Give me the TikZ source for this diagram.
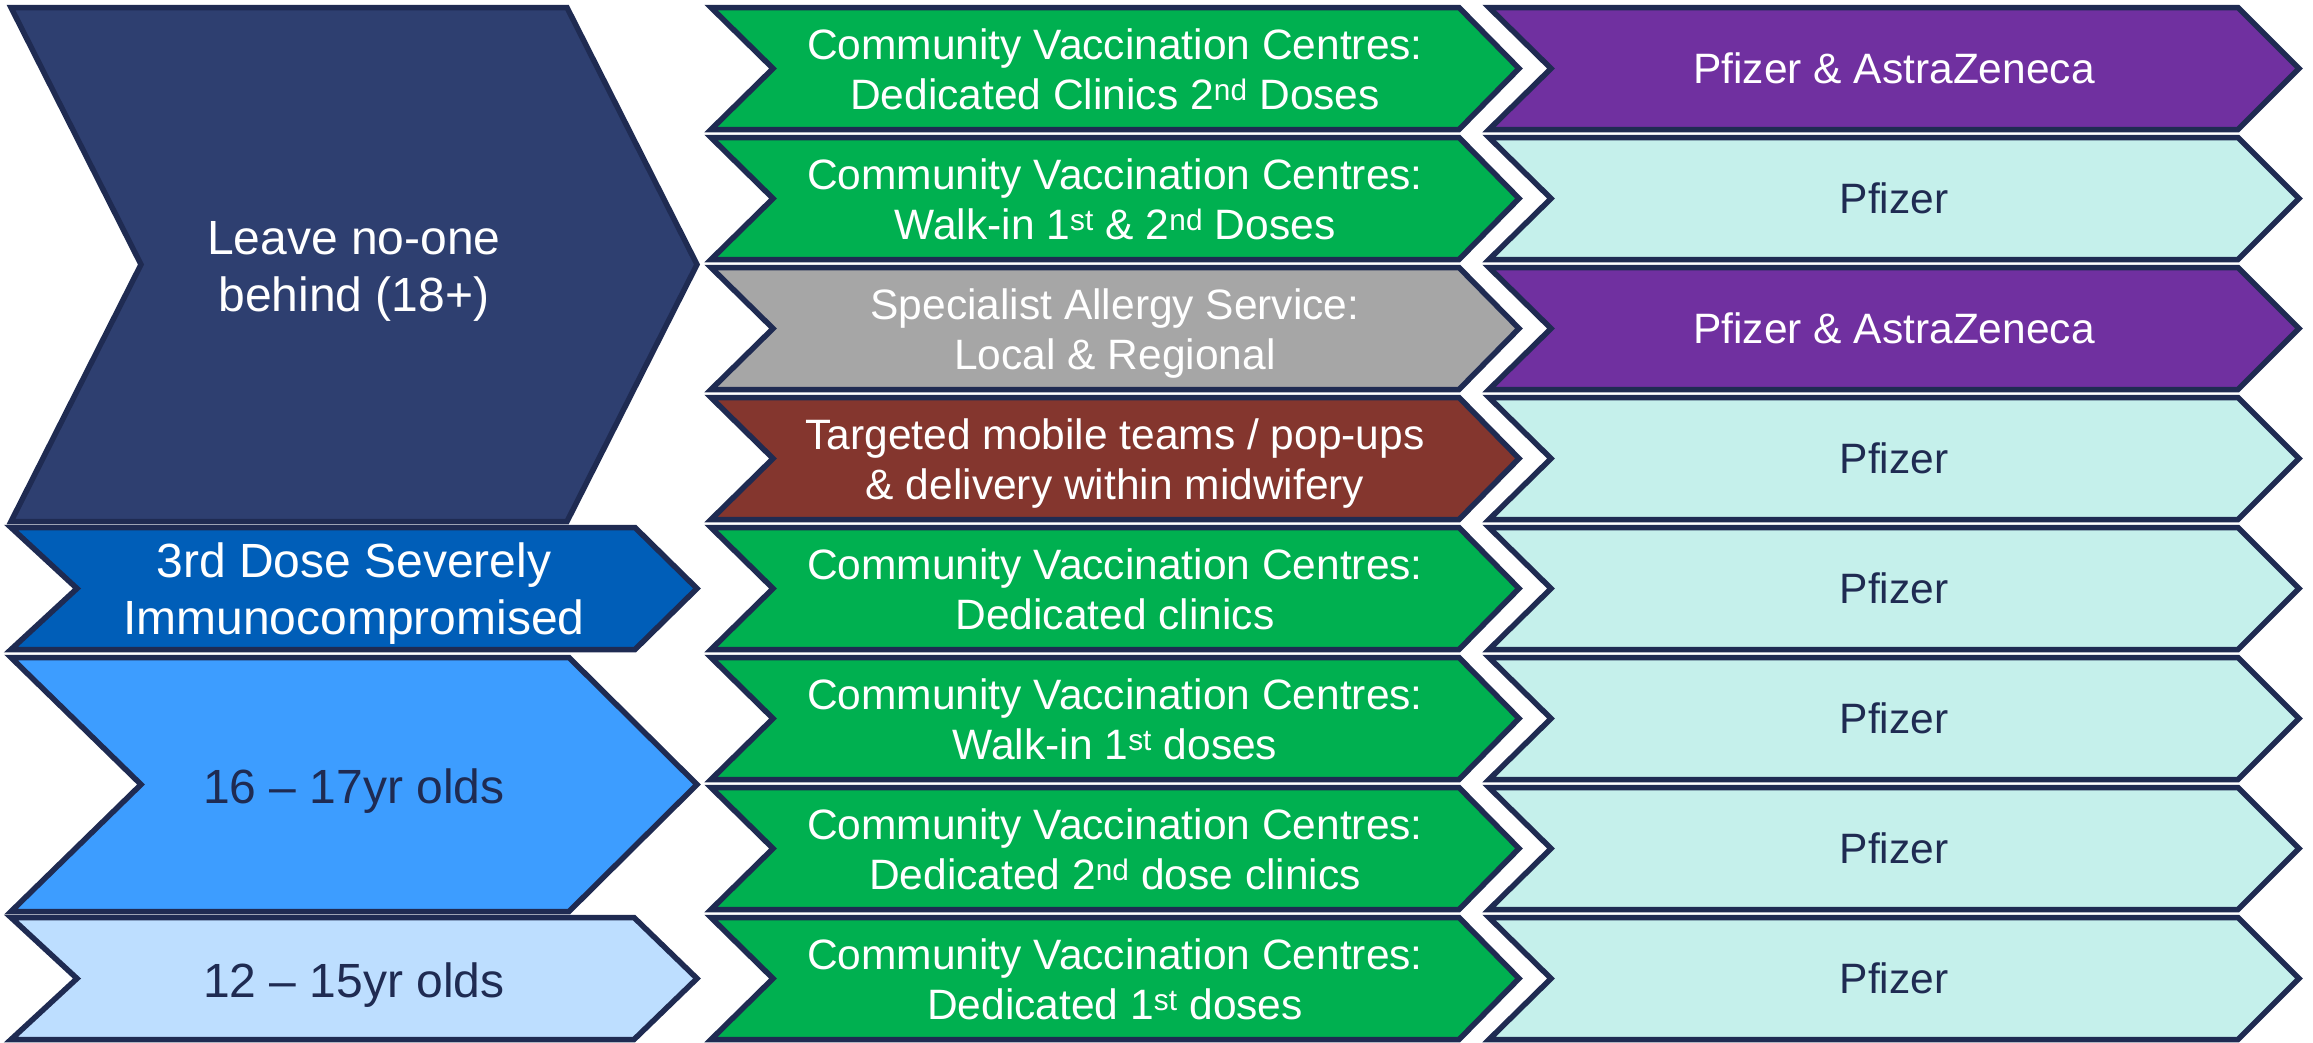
\documentclass[tikz,border=0pt]{standalone}
\usepackage{fontspec}
\setmainfont{Liberation Sans}
\definecolor{edgec}{HTML}{1F2B52}
\definecolor{darkslate}{HTML}{2E3F70}
\definecolor{nhsblue}{HTML}{005EB8}
\definecolor{midblue}{HTML}{3D9DFF}
\definecolor{paleblue}{HTML}{BDDEFF}
\definecolor{cvcgreen}{HTML}{00B050}
\definecolor{allergygrey}{HTML}{A6A6A6}
\definecolor{mobilebrown}{HTML}{84362E}
\definecolor{vacpurple}{HTML}{7030A0}
\definecolor{vacaqua}{HTML}{C5F0EB}
\definecolor{darktext}{HTML}{1F2B52}
\newcommand\chevshape[7]{%
  \filldraw[chevline, fill=#7] (#1,#2) -- ({#3-#6},#2) -- (#3,{(#2+#4)/2}) -- ({#3-#6},#4) -- (#1,#4) -- ({#1+#5},{(#2+#4)/2}) -- cycle;}
\tikzset{
  chevline/.style={draw=edgec, line width=5.5pt, line join=miter},
  lab/.style={align=center, inner sep=0pt, text depth=0pt, font=\fontsize{42.5}{50}\selectfont},
  biglab/.style={align=center, inner sep=0pt, text depth=0pt, font=\fontsize{48}{57}\selectfont},
}
\begin{document}
\begin{tikzpicture}[x=1pt, y=-1pt]
\useasboundingbox (0,0) rectangle (2313,1042);
% left column
\chevshape{11}{7.5}{697}{521.5}{130}{130}{darkslate}
\node[biglab, text=white] (g18) at (354,266) {Leave no-one\\behind (18+)};
\chevshape{11}{527.5}{697}{649.5}{66}{62}{nhsblue}
\node[biglab, text=white] (g3rd) at (354,589) {3rd Dose Severely\\Immunocompromised};
\chevshape{11}{657.5}{697}{911.5}{130}{128}{midblue}
\node[biglab, text=darktext] (g16) at (354,786.5) {16 -- 17yr olds};
\chevshape{11}{917.5}{697}{1039.5}{66}{63}{paleblue}
\node[biglab, text=darktext] (g12) at (354,980.5) {12 -- 15yr olds};
% middle column
\chevshape{711}{7.5}{1519}{129.5}{62}{60}{cvcgreen}
\node[lab, text=white] (m0) at (1115,69.5) {Community Vaccination Centres:\\Dedicated Clinics 2\textsuperscript{nd} Doses};
\chevshape{711}{137.5}{1519}{259.5}{62}{60}{cvcgreen}
\node[lab, text=white] (m1) at (1115,199.5) {Community Vaccination Centres:\\Walk-in 1\textsuperscript{st} \& 2\textsuperscript{nd} Doses};
\chevshape{711}{267.5}{1519}{389.5}{62}{60}{allergygrey}
\node[lab, text=white] (m2) at (1115,329.5) {Specialist Allergy Service:\\Local \& Regional};
\chevshape{711}{397.5}{1519}{519.5}{62}{60}{mobilebrown}
\node[lab, text=white] (m3) at (1115,459.5) {Targeted mobile teams / pop-ups\\\& delivery within midwifery};
\chevshape{711}{527.5}{1519}{649.5}{62}{60}{cvcgreen}
\node[lab, text=white] (m4) at (1115,589.5) {Community Vaccination Centres:\\Dedicated clinics};
\chevshape{711}{657.5}{1519}{779.5}{62}{60}{cvcgreen}
\node[lab, text=white] (m5) at (1115,719.5) {Community Vaccination Centres:\\Walk-in 1\textsuperscript{st} doses};
\chevshape{711}{787.5}{1519}{909.5}{62}{60}{cvcgreen}
\node[lab, text=white] (m6) at (1115,849.5) {Community Vaccination Centres:\\Dedicated 2\textsuperscript{nd} dose clinics};
\chevshape{711}{917.5}{1519}{1039.5}{62}{60}{cvcgreen}
\node[lab, text=white] (m7) at (1115,979.5) {Community Vaccination Centres:\\Dedicated 1\textsuperscript{st} doses};
% right column
\chevshape{1489}{7.5}{2299}{129.5}{62}{61}{vacpurple}
\node[lab, text=white] (r0) at (1894,68.5) {Pfizer \& AstraZeneca};
\chevshape{1489}{137.5}{2299}{259.5}{62}{61}{vacaqua}
\node[lab, text=darktext] (r1) at (1894,198.5) {Pfizer};
\chevshape{1489}{267.5}{2299}{389.5}{62}{61}{vacpurple}
\node[lab, text=white] (r2) at (1894,328.5) {Pfizer \& AstraZeneca};
\chevshape{1489}{397.5}{2299}{519.5}{62}{61}{vacaqua}
\node[lab, text=darktext] (r3) at (1894,458.5) {Pfizer};
\chevshape{1489}{527.5}{2299}{649.5}{62}{61}{vacaqua}
\node[lab, text=darktext] (r4) at (1894,588.5) {Pfizer};
\chevshape{1489}{657.5}{2299}{779.5}{62}{61}{vacaqua}
\node[lab, text=darktext] (r5) at (1894,718.5) {Pfizer};
\chevshape{1489}{787.5}{2299}{909.5}{62}{61}{vacaqua}
\node[lab, text=darktext] (r6) at (1894,848.5) {Pfizer};
\chevshape{1489}{917.5}{2299}{1039.5}{62}{61}{vacaqua}
\node[lab, text=darktext] (r7) at (1894,978.5) {Pfizer};
\end{tikzpicture}
\end{document}
